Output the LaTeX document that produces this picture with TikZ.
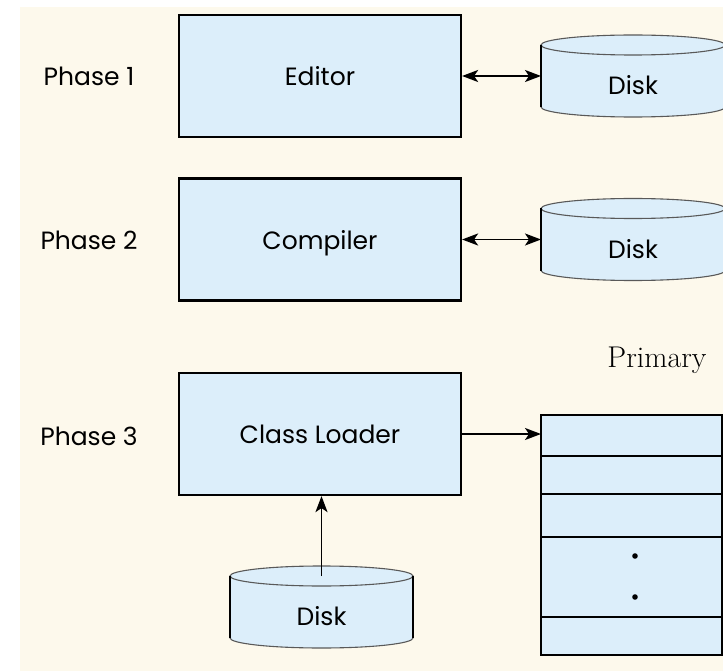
\documentclass[tikz,border=0pt]{standalone}
\usepackage{fontspec}
\newfontfamily\guifont{Poppins}
\usetikzlibrary{arrows.meta,positioning}

\definecolor{bgcream}{RGB}{253,249,236}
\definecolor{boxblue}{RGB}{220,238,250}

\tikzset{
  phase/.style={font=\guifont\fontsize{25}{30}\selectfont, text depth=0pt},
  stage/.style={draw, fill=boxblue, line width=2.2pt, minimum width=282, minimum height=122,
    inner sep=0pt, font=\guifont\fontsize{25}{30}\selectfont, text depth=0pt},
  diskbody/.style={draw=none, minimum height=62, inner sep=0pt, outer sep=0pt},
  diskedge/.style={draw=black!65, line width=1.1pt},
  diskside/.style={line width=2.6pt},
  cell/.style={draw, fill=boxblue, line width=2.2pt, minimum width=181, inner sep=0pt, outer sep=0pt},
  link/.style={line width=1.9pt}
}

\begin{document}
\begin{tikzpicture}[x=1pt,y=1pt, >={Stealth[length=16pt,width=12pt,inset=4pt]}]
   \useasboundingbox (0,0) rectangle (723,-671);
   \fill[bgcream] (20,-7) rectangle (723,-671);

   \node[phase] (phase1) at (89,-76) {Phase 1};
   \node[phase] (phase2) at (89,-240) {Phase 2};
   \node[phase] (phase3) at (89,-436) {Phase 3};

   \node[stage] (editor) at (320,-76) {Editor};
   \node[stage] (compiler) at (320,-239.5) {Compiler};
   \node[stage] (loader) at (320,-434) {Class Loader};

   % disks
   \foreach \n/\cx/\cy/\w in {disk1/633/-76/184, disk2/633/-239.5/184, disk3/321.5/-607/183} {
     \node[diskbody, minimum width=\w] (\n) at (\cx,\cy) {};
     \fill[boxblue] (\n.north west) -- (\n.south west)
        arc[start angle=180, end angle=360, x radius=\w/2, y radius=10] -- (\n.north east)
        arc[start angle=0, end angle=180, x radius=\w/2, y radius=10] -- cycle;
     \draw[diskedge] (\n.north) ellipse[x radius=\w/2, y radius=10];
     \draw[diskedge] (\n.south west) arc[start angle=180, end angle=360, x radius=\w/2, y radius=10];
     \draw[diskside] (\n.north west) -- (\n.south west) (\n.north east) -- (\n.south east);
     \node[phase] (\n-txt) at ([yshift=-9pt]\n.center) {Disk};
   }

   % primary memory
   \node[anchor=base, font=\fontsize{30}{36}\selectfont] (primary) at (657,-367) {Primary};
   \node[cell, minimum height=41] (row1) at (631.5,-435.5) {};
   \node[cell, minimum height=38, below=0pt of row1] (row2) {};
   \node[cell, minimum height=43, below=0pt of row2] (row3) {};
   \node[cell, minimum height=80, below=0pt of row3] (row4) {};
   \node[cell, minimum height=38, below=0pt of row4] (row5) {};
   \fill ([shift={(3.5,21)}]row4.center) circle (2.8);
   \fill ([shift={(3.5,-20)}]row4.center) circle (2.8);

   \draw[link, <->] (editor) -- (disk1);
   \draw[link, <->] (compiler) -- (disk2);
   \draw[link, ->] (loader.east) -- (loader.east -| row1.west);
   \draw[link, ->] (disk3.north) -- (disk3.north |- loader.south);

\end{tikzpicture}
\end{document}
